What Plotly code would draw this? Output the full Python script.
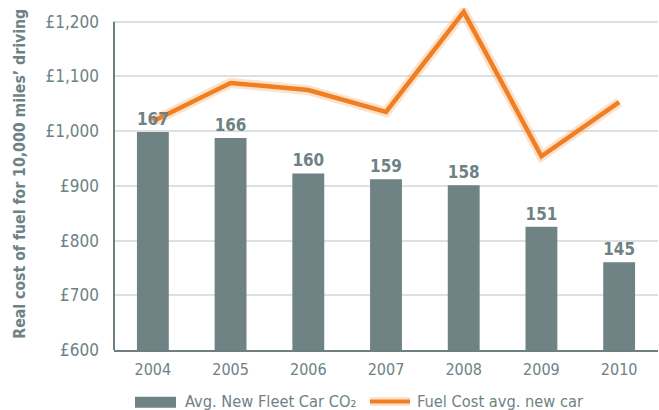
import plotly.graph_objects as go

years = ["2004", "2005", "2006", "2007", "2008", "2009", "2010"]
co2_values = [167, 166, 160, 159, 158, 151, 145]
fuel_cost = [1018, 1088, 1075, 1035, 1218, 954, 1053]
y_ticks = [600, 700, 800, 900, 1000, 1100, 1200]
y_tick_labels = ["£600", "£700", "£800", "£900", "£1,000", "£1,100", "£1,200"]

FONT = "DejaVu Sans Condensed, DejaVu Sans, sans-serif"
GREY = "#6F8284"
TEXT = "#6E8285"
ORANGE = "#F07E22"
AXIS = "#6E7F82"

fig = go.Figure()

fig.add_trace(go.Bar(
    x=years, y=co2_values, yaxis="y2",
    marker=dict(color=GREY, line=dict(width=0)),
    width=0.41,
    text=[str(v) for v in co2_values],
    textposition="outside",
    textfont=dict(family=FONT, size=17, color=TEXT, weight="bold"),
    cliponaxis=False,
    name="Avg. New Fleet Car CO₂",
    showlegend=False,
))

fig.add_trace(go.Scatter(
    x=years, y=fuel_cost, mode="lines",
    line=dict(color="rgba(245,150,70,0.28)", width=10),
    hoverinfo="skip", showlegend=False, cliponaxis=False,
))
fig.add_trace(go.Scatter(
    x=years, y=fuel_cost, mode="lines",
    line=dict(color=ORANGE, width=4.5),
    name="Fuel Cost avg. new car",
    showlegend=False, cliponaxis=False,
))

fig.update_layout(
    width=659, height=410,
    margin=dict(l=114, r=1, t=8.33, b=60),
    paper_bgcolor="white", plot_bgcolor="white",
    font=dict(family=FONT, color=TEXT),
    bargap=0.59,
    xaxis=dict(
        showgrid=False, showline=True, linecolor=AXIS, linewidth=2,
        ticks="", tickfont=dict(family=FONT, size=16, color=TEXT),
        ticklabelstandoff=4,
    ),
    yaxis=dict(
        range=[600, 1225], tickvals=y_ticks, ticktext=y_tick_labels,
        showgrid=True, gridcolor="#DDE1E1", gridwidth=2,
        showline=False,
        zeroline=False, ticks="",
        tickfont=dict(family=FONT, size=17, color=TEXT),
        ticklabelstandoff=14,
    ),
    yaxis2=dict(
        range=[130.15, 187.96], overlaying="y", side="right",
        visible=False, showgrid=False,
    ),
)

# y axis line only spanning the tick range
fig.add_shape(type="line", xref="paper", yref="y", x0=0, x1=0, y0=600, y1=1200,
              line=dict(color=AXIS, width=2), layer="above")

fig.add_annotation(
    text="Real cost of fuel for 10,000 miles’ driving",
    xref="paper", yref="paper", x=-0.1728, y=0.5155,
    xanchor="center", yanchor="middle", textangle=-90, showarrow=False,
    font=dict(family=FONT, size=15.7, color=TEXT, weight="bold"),
)

# legend drawn manually (paper y relative to new plot height 341.67)
H = 341.67
def py(pix):
    return (350 - pix) / H

fig.add_shape(type="rect", xref="paper", yref="paper",
              x0=0.0386, x1=0.114, y0=py(407.7), y1=py(396.7),
              fillcolor=GREY, line=dict(width=0))
fig.add_annotation(text="Avg. New Fleet Car CO₂", xref="paper", yref="paper",
                   x=0.1263, y=py(401), xanchor="left", yanchor="middle",
                   showarrow=False, font=dict(family=FONT, size=16.3, color=TEXT))
fig.add_shape(type="line", xref="paper", yref="paper",
              x0=0.4706, x1=0.5441, y0=py(401.5), y1=py(401.5),
              line=dict(color="rgba(245,150,70,0.28)", width=9))
fig.add_shape(type="line", xref="paper", yref="paper",
              x0=0.4706, x1=0.5441, y0=py(401.5), y1=py(401.5),
              line=dict(color=ORANGE, width=4))
fig.add_annotation(text="Fuel Cost avg. new car", xref="paper", yref="paper",
                   x=0.5533, y=py(401), xanchor="left", yanchor="middle",
                   showarrow=False, font=dict(family=FONT, size=16.3, color=TEXT))

fig.write_html("out.html")
